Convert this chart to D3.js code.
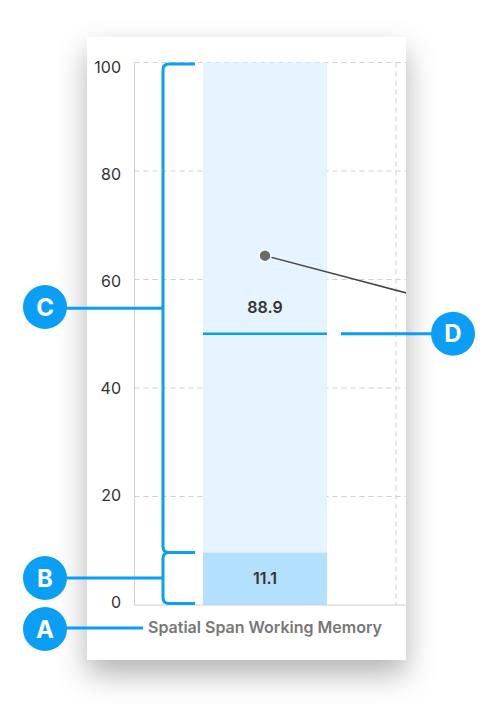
<!DOCTYPE html>
<html>
<head>
<meta charset="utf-8">
<script src="https://cdn.jsdelivr.net/npm/d3@7"></script>
<style>
  body { margin: 0; background: #fff; }
  svg { display: block; font-family: Inter, "Noto Sans", sans-serif; }
</style>
</head>
<body>
<svg id="chart"></svg>
<script>
var W = 499, H = 714;

// data
var categories = ['Spatial Span Working Memory', 'next'];
var segmentKeys = ['low', 'high'];
var segmentValues = [9.7, 90.3];          // stacked heights as drawn
var segmentLabels = ['11.1', '88.9'];     // printed labels
var medianValue = 50;
var dotValues = [64.4, 51.7];             // per category, second is cut off
var yTicks = [0, 20, 40, 60, 80, 100];

var blue = '#0a9ff5',
    gridColor = '#cfcfcf',
    segColors = ['#b2e0fd', '#e5f4fe'];

var svg = d3.select('#chart').attr('width', W).attr('height', H);

var defs = svg.append('defs');
defs.append('filter')
    .attr('id', 'shadow')
    .attr('x', '-30%').attr('y', '-20%')
    .attr('width', '160%').attr('height', '140%')
  .append('feDropShadow')
    .attr('dx', 0).attr('dy', 14)
    .attr('stdDeviation', 15)
    .attr('flood-color', '#000')
    .attr('flood-opacity', 0.3);

var card = {x: 87, y: 37, w: 319, h: 623};
defs.append('clipPath').attr('id', 'cardClip')
  .append('rect')
    .attr('x', card.x).attr('y', card.y)
    .attr('width', card.w).attr('height', card.h);

svg.append('rect')
    .attr('x', card.x).attr('y', card.y)
    .attr('width', card.w).attr('height', card.h)
    .attr('fill', '#fff')
    .attr('filter', 'url(#shadow)');

var y = d3.scaleLinear().domain([0, 100]).range([605, 62.5]);
var yLabel = d3.scaleLinear().domain([0, 100]).range([602, 67]);
var x = d3.scaleBand().domain(categories).range([134.5, 656.5]).padding(0);
var barW = x.bandwidth() * 0.475;
var barX = function(c){ return x(c) + (x.bandwidth() - barW) / 2; };
var cx = function(c){ return x(c) + x.bandwidth() / 2; };

var plot = svg.append('g').attr('clip-path', 'url(#cardClip)');

// horizontal grid
plot.append('g').selectAll('line')
    .data(yTicks.filter(function(d){ return d > 0; }))
    .join('line')
    .attr('x1', x.range()[0]).attr('x2', x.range()[1])
    .attr('y1', function(d){ return y(d); })
    .attr('y2', function(d){ return y(d); })
    .attr('stroke', gridColor)
    .attr('stroke-dasharray', '5,4');

// vertical grid at band boundaries
plot.append('g').selectAll('line')
    .data(categories.slice(1))
    .join('line')
    .attr('x1', function(d){ return x(d) + 0.5; })
    .attr('x2', function(d){ return x(d) + 0.5; })
    .attr('y1', y(100)).attr('y2', y(0))
    .attr('stroke', gridColor)
    .attr('stroke-dasharray', '5,4');

// stacked bar
var cum = d3.cumsum(segmentValues);
var segs = segmentValues.map(function(v, i){
    return {key: segmentKeys[i], y0: cum[i] - v, y1: cum[i], label: segmentLabels[i], color: segColors[i]};
});
var c0 = categories[0];
plot.append('g').selectAll('rect')
    .data(segs)
    .join('rect')
    .attr('x', barX(c0))
    .attr('width', barW)
    .attr('y', function(d){ return y(d.y1); })
    .attr('height', function(d){ return y(d.y0) - y(d.y1); })
    .attr('fill', function(d){ return d.color; });

plot.append('g').selectAll('text')
    .data(segs)
    .join('text')
    .attr('x', cx(c0))
    .attr('y', function(d){ return (y(d.y0) + y(d.y1)) / 2; })
    .attr('dy', '0.35em')
    .attr('text-anchor', 'middle')
    .attr('font-size', 16)
    .attr('font-weight', 600)
    .attr('fill', '#333')
    .text(function(d){ return d.label; });

// axes lines
plot.append('line')
    .attr('x1', x.range()[0]).attr('x2', x.range()[1])
    .attr('y1', y(0)).attr('y2', y(0))
    .attr('stroke', gridColor);
plot.append('line')
    .attr('x1', x.range()[0]).attr('x2', x.range()[0])
    .attr('y1', y(100)).attr('y2', y(0))
    .attr('stroke', gridColor);

// tick labels
svg.append('g').selectAll('text')
    .data(yTicks)
    .join('text')
    .attr('x', 121)
    .attr('y', function(d){ return yLabel(d); })
    .attr('dy', '0.35em')
    .attr('text-anchor', 'end')
    .attr('font-size', 16)
    .attr('fill', '#333')
    .text(function(d){ return d; });

// category label
svg.append('text')
    .attr('x', cx(c0))
    .attr('y', 627)
    .attr('dy', '0.35em')
    .attr('text-anchor', 'middle')
    .attr('font-size', 16)
    .attr('font-weight', 600)
    .attr('fill', '#777')
    .text(c0);

// median line
plot.append('line')
    .attr('x1', barX(c0)).attr('x2', barX(c0) + barW)
    .attr('y1', y(medianValue)).attr('y2', y(medianValue))
    .attr('stroke', blue).attr('stroke-width', 2.5);

// dot line
var dotLine = d3.line()
    .x(function(d, i){ return cx(categories[i]); })
    .y(function(d){ return y(d); });
plot.append('path')
    .attr('d', dotLine(dotValues))
    .attr('fill', 'none')
    .attr('stroke', '#444')
    .attr('stroke-width', 1.5);
plot.append('circle')
    .attr('cx', cx(c0)).attr('cy', y(dotValues[0]))
    .attr('r', 6)
    .attr('fill', '#6b6b6b')
    .attr('stroke', '#fff').attr('stroke-width', 1.5);

// brackets
var bx = barX(c0) - 40, bEnd = barX(c0) - 8, r = 6;
function bracket(top, bottom){
    return 'M' + bEnd + ',' + top + 'H' + (bx + r) +
        'Q' + bx + ',' + top + ' ' + bx + ',' + (top + r) +
        'V' + (bottom - r) +
        'Q' + bx + ',' + bottom + ' ' + (bx + r) + ',' + bottom +
        'H' + bEnd;
}
var split = y(segs[0].y1);
var topC = y(100) + 1.5, botB = y(0) - 1.5;
var ann = svg.append('g')
    .attr('fill', 'none')
    .attr('stroke', blue)
    .attr('stroke-width', 3);
ann.append('path').attr('d', bracket(topC, split));
ann.append('path').attr('d', bracket(split, botB));

var markers = [
    {id: 'A', x: 45, y: 629, x2: 143, ly: 628},
    {id: 'B', x: 45, y: 578, x2: bx, ly: (split + botB) / 2},
    {id: 'C', x: 45, y: 307, x2: bx, ly: (topC + split) / 2},
    {id: 'D', x: 453, y: y(medianValue), x2: barX(c0) + barW + 14, ly: y(medianValue)}
];
ann.selectAll('line.conn')
    .data(markers)
    .join('line')
    .attr('class', 'conn')
    .attr('x1', function(d){ return d.x; })
    .attr('x2', function(d){ return d.x2; })
    .attr('y1', function(d){ return d.ly; })
    .attr('y2', function(d){ return d.ly; });

var mg = svg.append('g').selectAll('g')
    .data(markers)
    .join('g')
    .attr('transform', function(d){ return 'translate(' + d.x + ',' + d.y + ')'; });
mg.append('circle').attr('r', 22).attr('fill', blue);
mg.append('text')
    .attr('text-anchor', 'middle')
    .attr('dy', '0.36em')
    .attr('font-size', 24)
    .attr('font-weight', 700)
    .attr('fill', '#fff')
    .text(function(d){ return d.id; });
</script>
</body>
</html>
